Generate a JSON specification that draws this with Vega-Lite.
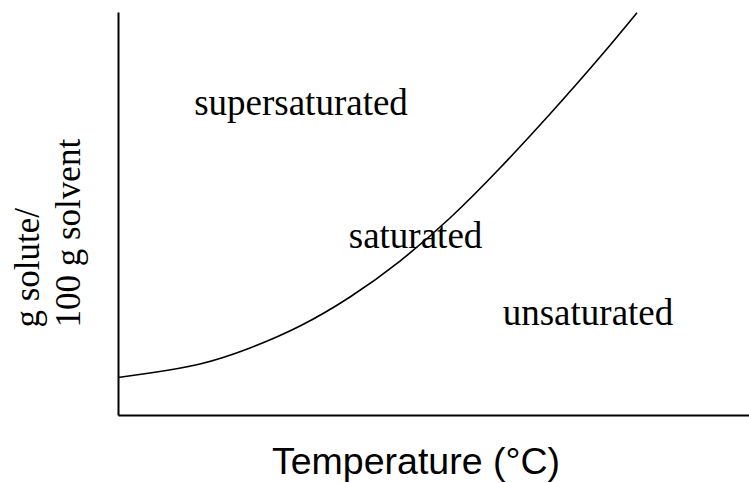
{
  "$schema": "https://vega.github.io/schema/vega-lite/v6.json",
  "width": 631,
  "height": 403,
  "autosize": {"type": "none"},
  "padding": {"left": 118, "top": 12, "right": 0, "bottom": 68},
  "background": "white",
  "config": {"view": {"stroke": null}},
  "datasets": {
    "curve": [
      {"t": 0, "s": 9.31},
      {"t": 5.07, "s": 10.42},
      {"t": 12.99, "s": 12.66},
      {"t": 20.92, "s": 16.63},
      {"t": 28.84, "s": 22.08},
      {"t": 36.77, "s": 29.28},
      {"t": 44.69, "s": 38.21},
      {"t": 52.61, "s": 48.88},
      {"t": 60.54, "s": 61.29},
      {"t": 68.46, "s": 74.69},
      {"t": 76.39, "s": 88.83},
      {"t": 82.25, "s": 99.83}
    ],
    "labels": [
      {"t": 29.0, "s": 74.44, "label": "supersaturated"},
      {"t": 47.15, "s": 41.44, "label": "saturated"},
      {"t": 74.48, "s": 22.33, "label": "unsaturated"}
    ]
  },
  "layer": [
    {
      "data": {"name": "curve"},
      "mark": {"type": "line", "color": "black", "strokeWidth": 1.6, "interpolate": "natural"},
      "encoding": {
        "x": {
          "field": "t", "type": "quantitative",
          "scale": {"domain": [0, 100], "nice": false, "zero": false},
          "axis": {
            "title": "Temperature (°C)",
            "ticks": false, "labels": false, "grid": false,
            "domainColor": "black", "domainWidth": 2,
            "titleFont": "Liberation Sans", "titleFontSize": 37.5, "titleFontWeight": "normal",
            "titleColor": "black", "titleX": 297.5, "titleY": 58,
            "titleAlign": "center", "titleBaseline": "alphabetic"
          }
        },
        "y": {
          "field": "s", "type": "quantitative",
          "scale": {"domain": [0, 100], "nice": false, "zero": false},
          "axis": {
            "title": ["g solute/", "100 g solvent"],
            "ticks": false, "labels": false, "grid": false,
            "domainColor": "black", "domainWidth": 2,
            "titleFont": "Liberation Serif", "titleFontSize": 35, "titleFontWeight": "normal",
            "titleColor": "black", "titleX": -80, "titleY": 315, "titleAngle": 270,
            "titleAlign": "left", "titleBaseline": "alphabetic", "titleLineHeight": 41
          }
        }
      }
    },
    {
      "data": {"name": "labels"},
      "mark": {"type": "text", "font": "Liberation Serif", "fontSize": 37, "color": "black", "align": "center", "baseline": "alphabetic"},
      "encoding": {
        "x": {"field": "t", "type": "quantitative"},
        "y": {"field": "s", "type": "quantitative"},
        "text": {"field": "label"}
      }
    }
  ]
}
